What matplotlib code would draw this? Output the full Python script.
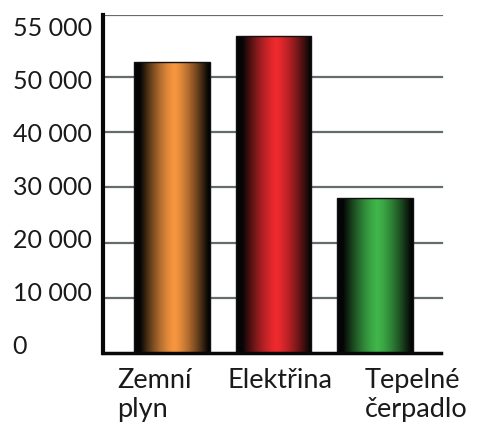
import numpy as np
import matplotlib
matplotlib.use('Agg')
from matplotlib import pyplot as plt
from matplotlib.colors import LinearSegmentedColormap
from matplotlib.patches import Rectangle

#------------------------------- DATA ------------------------------------------
categories = ['Zemní\nplyn', 'Elektřina', 'Tepelné\nčerpadlo']
values = [52700, 57400, 28100]
bar_colors = ['#f7963f', '#ee2a2e', '#3fb54a']

grid_values = [10000, 20000, 30000, 40000, 50000, 61200]
tick_labels = ['0', '10 000', '20 000', '30 000', '40 000', '50 000', '55 000']
#-------------------------------------------------------------------------------

plt.rcParams['font.family'] = ['Lato', 'DejaVu Sans']

fig = plt.figure(figsize=(4.81, 4.24), dpi=100)
ax = fig.add_axes([0.2141, 0.1675, 0.923 - 0.2141, 0.9646 - 0.1675])

ymax = 61200

# gridlines (behind bars)
for g in grid_values:
    ax.axhline(g, color='#e06a70', lw=0.6, zorder=1, xmax=0.995)
    ax.axhline(g, color='#646c6c', lw=1.6, zorder=1.1, xmax=0.995)

# gradient bars: dark edges, bright middle
width = 0.74
t = np.linspace(0, 1, 256)
profile = np.clip(1 - np.abs((t - 0.53) / 0.45) ** 1.4, 0, 1)
for i, (v, c) in enumerate(zip(values, bar_colors)):
    cmap = LinearSegmentedColormap.from_list('g%d' % i, ['#050505', c])
    x0 = i - width / 2
    im = ax.imshow(profile[np.newaxis, :], cmap=cmap, aspect='auto',
                   extent=[x0, x0 + width, 0, v], vmin=0, vmax=1, zorder=2)
    rect = Rectangle((x0, 0), width, v, fill=False, edgecolor='#111111',
                     lw=1.0, zorder=3)
    ax.add_patch(rect)
    im.set_clip_path(rect)

ax.set_xlim(-0.68, 2.68)
ax.set_ylim(0, ymax)

# tick labels (evenly spaced as in the picture), left aligned
label_pos = np.linspace(1450, 59060, len(tick_labels))
ax.set_yticks(label_pos)
ax.set_yticklabels(tick_labels, fontsize=18, color='#1a1a1a', ha='left')
ax.tick_params(axis='y', length=0, pad=65)
ax.set_xticks([])

# category labels
offsets = [-0.54, -0.45, -0.1]
for i, (cat, off) in enumerate(zip(categories, offsets)):
    ax.text(i + off, -0.045, cat, transform=ax.get_xaxis_transform(),
            ha='left', va='top', fontsize=19.5, color='#1a1a1a',
            linespacing=1.2)

for s in ['top', 'right']:
    ax.spines[s].set_visible(False)
ax.spines['left'].set_linewidth(3)
ax.spines['bottom'].set_linewidth(2.5)
ax.spines['left'].set_color('#080808')
ax.spines['bottom'].set_color('#080808')
ax.spines['bottom'].set_bounds(-0.68, 2.65)

fig.savefig('out.png', dpi=100)
